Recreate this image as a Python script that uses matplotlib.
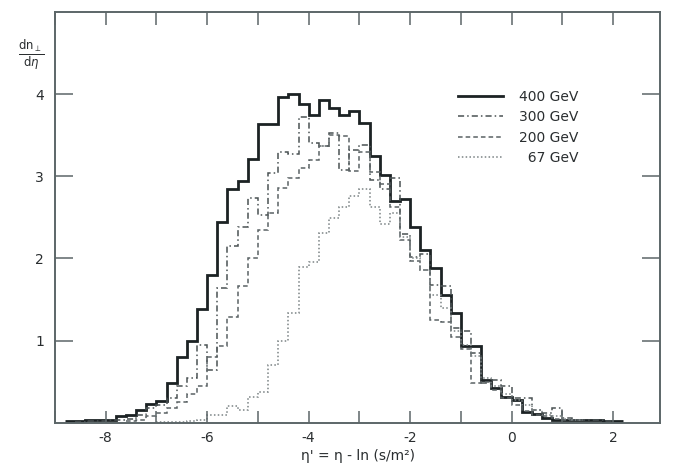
import numpy as np
import matplotlib
matplotlib.use("Agg")
import matplotlib.pyplot as plt

# bin width of all histograms (eta' units)
bin_w = 0.2

# 400 GeV, first bin starts at -8.8
start_400 = -8.8
dn_400 = [0.02, 0.02, 0.03, 0.03, 0.03, 0.08, 0.09, 0.16, 0.23, 0.27,
          0.48, 0.80, 1.00, 1.39, 1.80, 2.44, 2.84, 2.94, 3.21, 3.63,
          3.63, 3.97, 4.00, 3.88, 3.74, 3.93, 3.83, 3.74, 3.79, 3.65,
          3.25, 3.02, 2.70, 2.72, 2.38, 2.10, 1.88, 1.55, 1.34, 0.93,
          0.93, 0.52, 0.42, 0.32, 0.28, 0.13, 0.11, 0.06, 0.04, 0.04,
          0.04, 0.03, 0.03, 0.02, 0.02]

# 300 GeV
start_300 = -8.6
dn_300 = [0.01, 0.02, 0.02, 0.03, 0.03, 0.05, 0.10, 0.18, 0.22,
          0.30, 0.45, 0.55, 0.95, 0.64, 1.64, 2.15, 2.38, 2.73, 2.53,
          3.04, 3.30, 3.27, 3.72, 3.40, 3.37, 3.53, 3.08, 3.32, 3.38,
          2.95, 2.85, 2.98, 2.30, 2.02, 2.05, 1.68, 1.66, 1.15, 1.12,
          0.85, 0.48, 0.52, 0.45, 0.30, 0.30, 0.15, 0.12, 0.18, 0.06,
          0.04, 0.03, 0.03, 0.02]

# 200 GeV
start_200 = -7.6
dn_200 = [0.02, 0.04, 0.08, 0.12, 0.18, 0.25, 0.35, 0.45, 0.80, 0.93,
          1.29, 1.66, 2.00, 2.35, 2.55, 2.86, 2.98, 3.10, 3.20, 3.37,
          3.50, 3.49, 3.06, 3.30, 3.05, 2.90, 2.62, 2.22, 1.97, 1.86,
          1.25, 1.23, 1.05, 0.90, 0.48, 0.50, 0.40, 0.30, 0.22, 0.14,
          0.10, 0.08, 0.05, 0.04, 0.03]

# 67 GeV
start_67 = -7.0
dn_67 = [0.01, 0.01, 0.01, 0.02, 0.03, 0.09, 0.09, 0.20, 0.15, 0.32,
         0.37, 0.70, 0.99, 1.33, 1.90, 1.96, 2.31, 2.49, 2.63, 2.76,
         2.84, 2.63, 2.42, 2.55, 2.26, 2.00, 1.86, 1.55, 1.40, 1.12,
         0.95, 0.81, 0.55, 0.45, 0.35, 0.28, 0.22, 0.15, 0.10, 0.08,
         0.05, 0.03]

series = [
    ("400 GeV", start_400, dn_400, dict(color="#1c2224", lw=2.0, ls="-")),
    ("300 GeV", start_300, dn_300, dict(color="#4a5254", lw=1.1, ls=(0, (4, 2, 1, 2)))),
    ("200 GeV", start_200, dn_200, dict(color="#5a6264", lw=1.1, ls=(0, (3, 2)))),
    ("  67 GeV", start_67, dn_67, dict(color="#7a8284", lw=1.1, ls=(0, (1, 1.5)))),
]

fig = plt.figure(figsize=(6.74, 4.74), dpi=100)
ax = fig.add_axes([0.0816, 0.108, 0.898, 0.867])

for label, start, vals, st in series:
    edges = start + bin_w * np.arange(len(vals) + 1)
    ax.stairs(vals, edges, label=label, baseline=None, **st)

ax.set_xlim(-9.0, 2.93)
ax.set_ylim(0, 5.0)

ax.set_xticks([-8, -6, -4, -2, 0, 2])
ax.set_xticklabels(["-8", "-6", "-4", "-2", "0", "2"])
ax.set_xticks([-9, -7, -5, -3, -1, 1], minor=True)
ax.set_yticks([1, 2, 3, 4])
ax.set_yticklabels(["1", "2", "3", "4"])

spine_c = "#5c6668"
for s in ax.spines.values():
    s.set_color(spine_c)
    s.set_linewidth(1.4)
ax.tick_params(axis="x", which="both", direction="in", length=9, width=1.1,
               color=spine_c, top=True, labelsize=10, pad=6, labelcolor="#2a2e30")
ax.tick_params(axis="y", which="both", direction="in", length=13, width=1.1,
               color=spine_c, right=True, labelsize=10, pad=8, labelcolor="#2a2e30")

ax.set_xlabel("η' = η - ln (s/m²)", fontsize=10, color="#2a2e30", labelpad=3)
fig.text(0.046, 0.885, r"$\frac{\mathrm{dn}_\perp}{\mathrm{d}\eta}$", fontsize=12,
         ha="center", va="center", color="#2a2e30")

leg = ax.legend(loc="upper right", bbox_to_anchor=(0.885, 0.84), frameon=False,
                fontsize=10, handlelength=3.3, handletextpad=1.1, labelspacing=0.45)
for t in leg.get_texts():
    t.set_color("#2a2e30")

fig.savefig("out.png", dpi=100, facecolor="white")
